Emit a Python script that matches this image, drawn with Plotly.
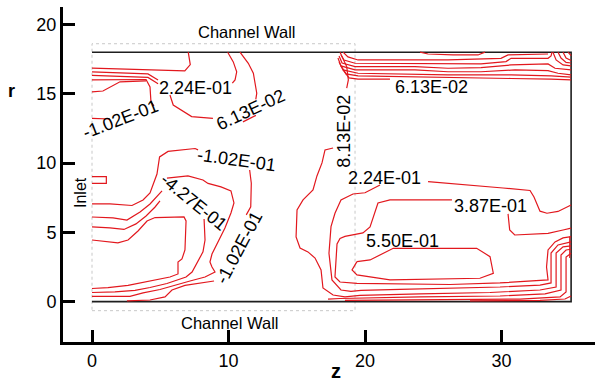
import plotly.graph_objects as go

RED = "rgb(226,24,30)"

# ---------------- channel geometry ----------------
wall_z = [0, 35.1, 35.1, 0]
wall_r = [18, 18, 0, 0]
zone_z = [0, 19.27, 19.27, 0, 0]
zone_r = [-0.65, -0.65, 18.61, 18.61, -0.65]

x_ticks = [0, 10, 20, 30]
y_ticks = [0, 5, 10, 15, 20]

# ---------------- contour polylines, (z, r) ----------------
# upper-left recirculation
ul_1 = [(0, 16.85), (4.5, 16.75), (6.8, 16.65), (7.2, 17.1), (7.05, 18)]
ul_2 = [(0, 16.58), (2.42, 16.51), (4.1, 16.43), (4.84, 16.0)]
ul_3 = [(0, 16.32), (1.9, 16.25), (4.1, 16.18), (4.84, 15.72)]
ul_4 = [(0, 16.0), (1.9, 16.03), (3.96, 16.03), (4.25, 15.49), (4.32, 14.41), (4.54, 14.12)]
ul_5 = [(0, 15.13), (0.8, 15.2), (2.05, 15.86), (3.96, 15.93)]
ul_6 = [(9.94, 18), (10.35, 17.3), (10.6, 16.58), (10.48, 16.0), (10.28, 15.76)]
ul_7 = [(10.84, 18), (11.45, 17.2), (11.82, 16.48), (12.07, 15.04), (12.0, 14.6)]
ul_8 = [(11.06, 12.97), (12.01, 13.44)]
ul_9 = [(5.71, 14.91), (5.95, 14.19), (7.30, 13.35), (8.86, 13.22)]
ul_10 = [(0, 13.23), (1.32, 13.18)]

# inlet region
inlet_bump = [(0, 9.02), (1.05, 9.02), (1.05, 8.54), (0, 8.54)]
in_u1 = list(zip(
    [0, 1.17, 1.90, 2.64, 3.37, 4.03, 4.62, 6.74, 6.89, 6.81, 6.59, 6.30, 6.30, 5.71, 4.40, 2.64, 1.17, 0],
    [4.45, 4.34, 4.24, 4.45, 5.10, 5.82, 6.07, 6.11, 5.82, 3.73, 3.08, 2.86, 2.00, 1.78, 1.53, 1.17, 1.02, 0.95]))
in_u2a = list(zip([0, 1.32, 2.34, 3.22, 3.96, 4.62, 4.98],
                  [5.39, 5.32, 5.21, 5.61, 6.18, 6.83, 7.27]))
in_u2b = list(zip([8.21, 8.28, 8.13, 7.62, 7.33, 6.89, 6.08, 5.49, 4.25, 3.15, 1.68, 0],
                  [5.97, 4.45, 3.59, 2.65, 2.14, 1.78, 1.53, 1.31, 1.02, 0.81, 0.70, 0.66]))
in_u3a = list(zip([0, 1.54, 2.56, 3.52, 4.25, 4.84, 5.13],
                  [6.11, 6.04, 5.89, 6.47, 7.05, 7.63, 7.99]))
in_u3b = list(zip(
    [5.49, 7.03, 8.13, 8.50, 9.45, 10.18, 10.40, 10.18, 9.74, 9.23, 8.79, 8.64, 8.79, 9.01, 8.28, 7.18, 6.08, 4.98, 3.74, 2.78, 0],
    [8.92, 9.07, 8.78, 8.53, 8.28, 7.99, 7.12, 6.40, 5.32, 4.31, 3.44, 2.86, 2.50, 2.14, 1.78, 1.49, 1.20, 0.88, 0.63, 0.38, 0.38]))
in_u4a = list(zip([0, 1.32, 2.93, 3.74, 4.25, 4.47, 4.76, 4.95, 5.57, 7.55, 7.77],
                  [7.05, 7.05, 6.94, 7.34, 7.84, 8.49, 9.21, 10.44, 10.84, 11.05, 10.95]))
in_u4b = list(zip([11.55, 11.67, 11.63, 11.30], [9.50, 8.54, 6.85, 6.26]))
in_u4c = list(zip([8.94, 7.91, 6.81, 5.86, 5.35, 4.25, 2.56],
                  [1.49, 1.31, 1.17, 0.84, 0.34, 0.12, 0.06]))

# core flow downstream
core_v_top = list(zip([18.66, 18.78, 18.66, 18.41, 18.17], [15.40, 16.00, 16.96, 17.56, 18]))
core_v = list(zip(
    [17.66, 17.07, 16.85, 16.48, 16.19, 15.46, 15.02, 14.95, 15.24, 15.82, 16.34, 16.78, 16.92, 17.66,
     18.53, 19.63, 24.03, 29.16, 32.82, 34.00, 34.00, 34.51, 35.1],
    [11.09, 10.95, 10.01, 9.07, 8.06, 7.34, 6.62, 4.67, 3.87, 3.59, 3.15, 2.29, 0.99, 0.48,
     0.34, 0.45, 0.56, 0.66, 0.84, 1.06, 3.51, 3.95, 4.02]))
core_w = list(zip(
    [21.10, 20.00, 19.12, 18.24, 18.13, 17.80, 17.51, 17.36, 17.58, 18.24, 18.97, 19.71, 22.56, 26.45,
     29.89, 32.82, 33.63, 33.63, 34.14, 35.1],
    [8.42, 7.86, 7.77, 7.34, 7.10, 6.38, 5.41, 3.49, 1.57, 0.84, 0.74, 0.81, 0.88, 0.95,
     1.06, 1.20, 1.35, 3.51, 4.09, 4.31]))
core_w_right = list(zip([24.62, 27.18, 30.11, 32.09, 32.38, 32.82, 33.33, 34.14, 35.1],
                        [8.66, 8.46, 8.20, 8.02, 7.55, 6.53, 6.38, 6.51, 6.98]))
core_x = list(zip(
    [26.37, 21.83, 20.95, 20.66, 20.37, 19.85, 18.53, 18.17, 17.95, 17.80, 18.17, 19.41, 21.83, 26.23,
     29.89, 32.82, 33.41, 33.30, 33.41, 33.92, 34.51, 35.1],
    [7.34, 7.34, 7.12, 6.18, 5.39, 4.96, 4.71, 4.56, 4.16, 1.78, 1.42, 1.32, 1.31, 1.24,
     1.35, 1.49, 1.57, 2.50, 3.73, 4.31, 4.60, 4.69]))
core_x_right = list(zip([30.48, 30.60, 30.97, 33.41, 34.51, 35.1], [6.33, 5.17, 4.81, 4.93, 5.17, 5.30]))
core_loop = list(zip([19.41, 20.37, 22.07, 28.18, 29.16, 29.40, 28.42, 21.83, 19.41, 19.05, 19.41],
                     [2.89, 3.01, 3.85, 3.85, 3.25, 2.05, 1.69, 1.57, 1.93, 2.29, 2.89]))

# lower wall layer
low_1 = list(zip([17.29, 18.17, 24.03, 29.89, 33.19, 34.36, 34.36, 34.73, 35.1],
                 [0.19, 0.23, 0.34, 0.41, 0.56, 0.84, 3.37, 3.73, 3.78]))
low_2 = list(zip([18.53, 26.23, 31.36, 34.29, 34.73, 34.73, 35.1],
                 [0.09, 0.12, 0.19, 0.34, 0.70, 3.22, 3.49]))
low_3 = list(zip([27.69, 32.82, 34.65, 35.1], [0.05, 0.09, 0.19, 0.41]))
outlet_edge = [(35.0, 4.71), (35.0, 3.15)]

# upper wall layer
up_0 = list(zip([24.03, 24.62, 26.45, 28.28, 28.79], [18, 17.87, 17.80, 17.80, 18]))
up_1 = list(zip([18.39, 18.75, 19.49, 26.08, 29.96, 30.48, 33.41], [18, 17.66, 17.44, 17.44, 17.56, 17.80, 17.87]))
up_2 = list(zip([18.24, 18.46, 19.27, 26.08, 28.50, 30.33, 30.70, 33.41, 33.63, 33.70],
                [17.80, 17.44, 17.20, 17.15, 17.15, 17.32, 17.56, 17.56, 17.73, 18]))
up_3 = list(zip([18.10, 18.32, 19.27, 23.66, 26.08, 28.50, 30.70, 33.41, 33.92, 35.1],
                [17.73, 17.22, 16.96, 16.96, 16.84, 16.88, 17.08, 17.15, 16.84, 16.72]))
up_4 = list(zip([18.02, 18.24, 19.27, 23.66, 26.08, 28.50, 30.99, 33.41, 34.14, 35.1],
                [17.58, 17.01, 16.72, 16.72, 16.59, 16.59, 16.72, 16.67, 16.48, 16.36]))
up_5 = list(zip([18.10, 18.39, 19.49, 26.08, 30.70, 33.63, 35.1], [17.29, 16.72, 16.48, 16.36, 16.36, 16.29, 16.20]))
up_6 = list(zip([18.24, 18.61, 19.49, 26.08, 30.70, 33.63, 35.1], [17.01, 16.43, 16.29, 16.15, 16.10, 16.05, 16.00]))
up_7 = list(zip([18.39, 18.83, 19.49, 21.83], [16.72, 16.15, 16.05, 16.05]))
corner_1 = list(zip([33.77, 34.00, 34.51, 35.1], [18, 17.44, 17.08, 17.01]))
corner_2 = list(zip([34.14, 34.36, 34.73, 35.1], [18, 17.58, 17.26, 17.22]))
corner_3 = list(zip([34.51, 34.73, 35.1], [18, 17.58, 17.40]))
corner_4 = list(zip([34.87, 35.1], [18, 17.75]))

contour_lines = [
    ul_1, ul_2, ul_3, ul_4, ul_5, ul_6, ul_7, ul_8, ul_9, ul_10,
    inlet_bump, in_u1, in_u2a, in_u2b, in_u3a, in_u3b, in_u4a, in_u4b, in_u4c,
    core_v_top, core_v, core_w, core_w_right, core_x, core_x_right, core_loop,
    low_1, low_2, low_3, outlet_edge,
    up_0, up_1, up_2, up_3, up_4, up_5, up_6, up_7,
    corner_1, corner_2, corner_3, corner_4,
]

# contour labels: text, z, r, angle
level_labels = [
    ("2.24E-01", 7.55, 15.42, 0),
    ("6.13E-02", 11.58, 13.85, -25),
    ("-1.02E-01", 2.12, 13.18, -21),
    ("-1.02E-01", 10.62, 10.22, 8),
    ("-4.27E-01", 7.44, 7.16, 39),
    ("-1.02E-01", 10.77, 3.86, -62),
    ("8.13E-02", 18.46, 12.33, -90),
    ("6.13E-02", 24.89, 15.51, 0),
    ("2.24E-01", 21.41, 8.90, 0),
    ("3.87E-01", 29.22, 6.92, 0),
    ("5.50E-01", 22.75, 4.39, 0),
]


def joined(lines):
    zs, rs = [], []
    for line in lines:
        for z, r in line:
            zs.append(z)
            rs.append(r)
        zs.append(None)
        rs.append(None)
    return zs, rs


fig = go.Figure()

fig.add_trace(go.Scatter(x=zone_z, y=zone_r, mode="lines",
                         line=dict(color="rgb(200,200,200)", width=1, dash="dot"),
                         hoverinfo="skip"))
fig.add_trace(go.Scatter(x=wall_z, y=wall_r, mode="lines",
                         line=dict(color="rgb(30,30,30)", width=1.6),
                         hoverinfo="skip"))
cz, cr = joined(contour_lines)
fig.add_trace(go.Scatter(x=cz, y=cr, mode="lines", connectgaps=False,
                         line=dict(color=RED, width=1.2),
                         hoverinfo="skip"))

annotations = []
for text, z, r, ang in level_labels:
    annotations.append(dict(x=z, y=r, xref="x", yref="y", text=text, showarrow=False,
                            textangle=ang, font=dict(size=18, color="black")))

annotations += [
    dict(x=11.33, y=19.48, xref="x", yref="y", text="Channel Wall", showarrow=False,
         font=dict(size=16.5, color="black")),
    dict(x=10.11, y=-1.56, xref="x", yref="y", text="Channel Wall", showarrow=False,
         font=dict(size=16.5, color="black")),
    dict(x=-0.88, y=7.91, xref="x", yref="y", text="Inlet", showarrow=False, textangle=-90,
         font=dict(size=16, color="black")),
    # axis titles sit outside the plotting area, so they use paper coordinates
    dict(x=-0.096, y=0.75, xref="paper", yref="paper", xanchor="center", yanchor="middle",
         text="<b>r</b>", showarrow=False, font=dict(size=18, color="black")),
    dict(x=0.513, y=-0.087, xref="paper", yref="paper", xanchor="center", yanchor="middle",
         text="<b>z</b>", showarrow=False, font=dict(size=20, color="black")),
]

axis_common = dict(showgrid=False, zeroline=False, showline=True, linewidth=3, linecolor="black",
                   ticks="inside", ticklen=12, tickwidth=3, tickcolor="black",
                   tickfont=dict(size=18, color="black"))

fig.update_layout(
    width=595, height=385,
    margin=dict(l=63, r=0, t=7, b=43),
    paper_bgcolor="white", plot_bgcolor="white",
    showlegend=False,
    font=dict(family="Liberation Sans, Arial, sans-serif", color="black"),
    xaxis=dict(range=[-2.125, 36.85], tickvals=x_ticks, **axis_common),
    yaxis=dict(range=[-2.91, 21.26], tickvals=y_ticks, **axis_common),
    annotations=annotations,
)

fig.write_html("out.html")
